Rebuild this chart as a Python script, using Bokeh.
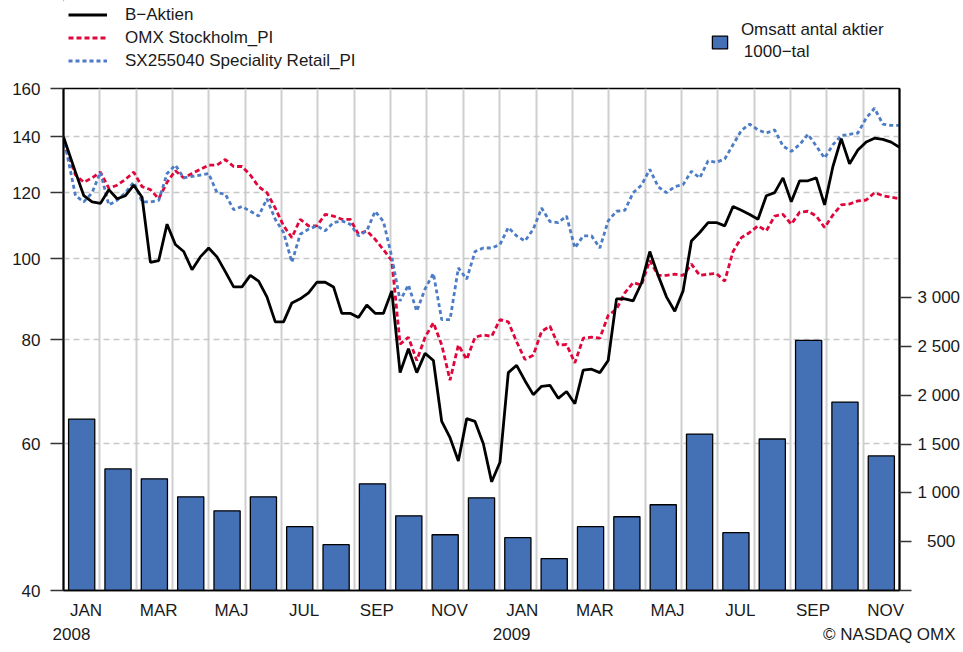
from bokeh.plotting import figure
from bokeh.layouts import column
from bokeh.models import (Range1d, LinearAxis, FixedTicker, Legend, LegendItem,
                          Label, LinearScale, ColumnDataSource)
from bokeh.embed import file_html
from bokeh.resources import INLINE

# ---------------- data ----------------
months = ["JAN", "FEB", "MAR", "APR", "MAJ", "JUN", "JUL", "AUG", "SEP", "OKT", "NOV", "DEC",
          "JAN", "FEB", "MAR", "APR", "MAJ", "JUN", "JUL", "AUG", "SEP", "OKT", "NOV"]
years = ["2008", "2009"]
source_note = "\u00a9 NASDAQ OMX"

# monthly traded volume, 1000-tal
volume = [1755, 1245, 1143, 959, 816, 959, 653, 469, 1092, 765, 571, 949,
          541, 327, 653, 755, 878, 1602, 592, 1551, 2561, 1929, 1378]

# weekly index values (start = 140)
b_aktien = [140, 127, 119, 117, 116.5, 121, 118, 119, 122.5, 118.5,
            99, 99.5, 110, 104, 102, 97, 100.5, 103, 100.5, 96.5,
            92.5, 92.5, 95.5, 94, 90, 84, 84, 88.5, 89.5, 91,
            93.7, 93.7, 92.5, 86, 86, 85, 88, 86, 86, 91.5,
            73, 78, 73, 77, 75.5, 63.8, 61, 57.2, 64.3, 63.8,
            60, 54, 57, 73, 74.5, 71.4, 68.7, 70.3, 70.5, 68,
            69.3, 67, 73.5, 73.7, 73, 75.5, 89.5, 89.5, 89, 93.5,
            102, 95.5, 90, 86.5, 91.5, 105, 107.5, 110.5, 110.5, 109.5,
            115.5, 114.3, 113, 111.5, 119, 120, 125, 117, 124, 124,
            125, 116, 129, 139.3, 130, 135, 138, 139.5, 139, 138,
            136]
omx_pi = [138, 126, 123.5, 125, 127, 121.5, 122.5, 124.5, 127, 122,
          121, 118, 123.5, 127.5, 125, 126.5, 128, 129.5, 129.5, 131.5,
          129, 129, 126, 122, 120, 115, 109.5, 106, 111.5, 109.5,
          109.5, 113, 112.5, 111.5, 111.5, 107, 108, 105.5, 102.5, 99.5,
          79, 80.5, 75.5, 80.5, 83.8, 78.8, 71.5, 78.8, 75.7, 80.5,
          81, 80.7, 84.5, 84, 79.5, 75.7, 76.6, 81.8, 83, 78.8,
          78.9, 75, 80.3, 80.5, 80.3, 85.5, 87, 91, 93.6, 93,
          99.5, 95.5, 95.5, 95.8, 95.5, 98.5, 95.5, 95.8, 96, 94,
          102, 106, 107.5, 109.5, 108, 112.5, 113, 110, 113.7, 114,
          112.5, 109, 112.8, 116, 116.3, 117.3, 117.6, 120, 119, 118.5,
          118]
sx_retail = [140, 119, 117, 120, 127, 116, 117.5, 120, 123.5, 117,
             117, 117.5, 126.5, 129.5, 125, 125.5, 126, 126.5, 120, 119.5,
             114.5, 115.5, 114, 112.5, 118, 111.5, 107.5, 99, 107, 108.5,
             109.5, 108, 110.5, 111, 110, 106.5, 108, 114, 110.8, 100.5,
             89, 93, 86.5, 92, 96, 84.5, 84.5, 97.5, 94.5, 102,
             103, 103, 104, 109, 106.5, 105, 108.5, 115, 110.8, 110.5,
             112.5, 103, 106.5, 106.5, 103, 111, 114, 114.3, 120, 122.5,
             128, 122, 120, 122, 122.7, 127.3, 125, 131, 130.5, 131.7,
             137, 142.5, 145, 142.7, 141.5, 142.7, 136.5, 134.5, 137, 141,
             136.5, 132, 137, 140.5, 141, 141.5, 147.5, 151.5, 145, 144.5,
             144.5]

price_ticks = [40, 60, 80, 100, 120, 140, 160]
vol_ticks = [0, 500, 1000, 1500, 2000, 2500, 3000]

# ---------------- styling / geometry ----------------
FONT = "Liberation Sans"
TXT = "#1a1a1a"
W = 963
TOP_H = 78
MAIN_H = 652 - TOP_H
BL, BR = 63, 62          # left / right borders (frames aligned in the column)
BAR_FILL = "#4471B6"
RED = "#E0063B"
BLUE = "#4C7CC6"
LW = 2.8
n_months = len(months)

# week positions in month units: first quote at 0, then weekly
first_week = 0.33
step = (n_months - first_week) / (len(b_aktien) - 2)
xw = [0.0] + [first_week + k * step for k in range(len(b_aktien) - 1)]

# ---------------- main chart ----------------
p = figure(width=W, height=MAIN_H, x_range=Range1d(0, n_months), y_range=Range1d(40, 160),
           y_axis_type="log", output_backend="svg", toolbar_location=None,
           min_border_left=BL, min_border_right=BR, min_border_top=10, min_border_bottom=62)
p.extra_y_ranges = {"vol": Range1d(0, 5140)}
p.extra_y_scales = {"vol": LinearScale()}
p.outline_line_color = "black"
p.outline_line_width = 1.5

# grids
p.xgrid.ticker = FixedTicker(ticks=list(range(1, n_months)))
p.xgrid.grid_line_color = "#cfcfcf"
p.xgrid.grid_line_width = 2
p.ygrid.ticker = FixedTicker(ticks=price_ticks[1:-1])
p.ygrid.grid_line_color = "#c8c8c8"
p.ygrid.grid_line_width = 1.5
p.ygrid.grid_line_dash = "6 4"

# left axis (price index, log)
ya = p.yaxis[0]
ya.ticker = FixedTicker(ticks=price_ticks)
ya.major_label_overrides = {t: str(t) for t in price_ticks}
ya.minor_tick_line_color = None
ya.major_tick_out = 13
ya.major_tick_in = 0
ya.major_tick_line_width = 1.5
ya.major_tick_line_color = "#333333"
ya.axis_line_width = 2
ya.axis_line_color = "black"
ya.major_label_standoff = 10
ya.major_label_text_font = FONT
ya.major_label_text_font_size = "17px"
ya.major_label_text_color = TXT

# bottom axis: months
xa = p.xaxis[0]
tick_pos = [round(m + 0.62, 2) for m in range(0, n_months, 2)]
xa.ticker = FixedTicker(ticks=tick_pos)
xa.major_label_overrides = {t: months[int(t)] for t in tick_pos}
xa.major_tick_line_color = None
xa.minor_tick_line_color = None
xa.major_tick_out = 0
xa.major_tick_in = 0
xa.axis_line_color = "black"
xa.axis_line_width = 1.5
xa.major_label_standoff = 10
xa.major_label_text_font = FONT
xa.major_label_text_font_size = "17px"
xa.major_label_text_color = TXT

# second bottom axis: years + source note
year_pos = [0.22, 12.33, 22.72]
ya2 = LinearAxis(ticker=FixedTicker(ticks=year_pos),
                 major_label_overrides={year_pos[0]: years[0], year_pos[1]: years[1],
                                        year_pos[2]: source_note})
ya2.axis_line_color = None
ya2.major_tick_line_color = None
ya2.minor_tick_line_color = None
ya2.major_tick_out = 0
ya2.major_tick_in = 0
ya2.major_label_standoff = 2
ya2.major_label_text_font = FONT
ya2.major_label_text_font_size = "17px"
ya2.major_label_text_color = TXT
p.add_layout(ya2, "below")

# right axis (volume)
def vol_label(v):
    if v == 0:
        return ""
    s = f"{v:,}".replace(",", " ")
    return s if v >= 1000 else "\u00a0\u00a0" + s

ra = LinearAxis(y_range_name="vol", ticker=FixedTicker(ticks=vol_ticks))
ra.major_label_overrides = {t: vol_label(t) for t in vol_ticks}
ra.minor_tick_line_color = None
ra.major_tick_out = 12
ra.major_tick_in = 0
ra.major_tick_line_width = 1.5
ra.major_tick_line_color = "#333333"
ra.axis_line_width = 2
ra.axis_line_color = "black"
ra.major_label_standoff = 6
ra.major_label_text_font = FONT
ra.major_label_text_font_size = "17px"
ra.major_label_text_color = TXT
p.add_layout(ra, "right")

# bars
bar_src = ColumnDataSource(dict(x=[m + 0.5 for m in range(n_months)], top=volume))
p.vbar(x="x", top="top", bottom=0, width=0.72, source=bar_src,
       fill_color=BAR_FILL, line_color="black", line_width=1.3, y_range_name="vol")

# lines
p.line(xw, omx_pi, line_color=RED, line_width=LW, line_dash="5 3")
p.line(xw, sx_retail, line_color=BLUE, line_width=LW, line_dash="4 3")
p.line(xw, b_aktien, line_color="black", line_width=LW)

# ---------------- legend strip ----------------
# frame of this strip is aligned with the chart frame (x from BL to W-BR),
# so its x range is expressed in page pixels
top = figure(width=W, height=TOP_H, x_range=Range1d(BL, W - BR), y_range=Range1d(TOP_H, 0),
             output_backend="svg", toolbar_location=None,
             min_border_left=BL, min_border_right=BR, min_border_top=0, min_border_bottom=0,
             x_axis_location=None, y_axis_location=None)
top.outline_line_color = None
top.grid.visible = False

# legend proxies (outside the visible strip)
k_black = top.line([-50, -40], [-50, -50], line_color="black", line_width=LW)
k_red = top.line([-50, -40], [-50, -50], line_color=RED, line_width=LW, line_dash="5 3")
k_blue = top.line([-50, -40], [-50, -50], line_color=BLUE, line_width=LW, line_dash="4 3")
k_bar = top.vbar(x=[-50], top=[-50], bottom=-60, width=1, fill_color=BAR_FILL,
                 line_color="black", line_width=1.3)

leg1 = Legend(items=[LegendItem(label="B\u2212Aktien", renderers=[k_black]),
                     LegendItem(label="OMX Stockholm_PI", renderers=[k_red]),
                     LegendItem(label="SX255040 Speciality Retail_PI", renderers=[k_blue])],
              location=(68 - BL, 7.25), orientation="vertical", border_line_color=None,
              background_fill_alpha=0, padding=0, margin=0, spacing=3,
              glyph_width=39, glyph_height=17, label_height=17, label_standoff=18,
              label_text_font=FONT, label_text_font_size="17px", label_text_color=TXT)
top.add_layout(leg1)

leg2 = Legend(items=[LegendItem(label=" ", renderers=[k_bar])],
              location=(709.5 - BL, 28.3), orientation="vertical", border_line_color=None,
              background_fill_alpha=0, padding=0, margin=0,
              glyph_width=19, glyph_height=16, label_height=16, label_standoff=0,
              label_text_font_size="2px")
top.add_layout(leg2)

top.add_layout(Label(x=742, y=28.5, text="Omsatt antal aktier", text_baseline="middle",
                     text_font=FONT, text_font_size="17px", text_color=TXT))
top.add_layout(Label(x=745, y=51, text="1000\u2212tal", text_baseline="middle",
                     text_font=FONT, text_font_size="17px", text_color=TXT))

layout = column(top, p, spacing=0)
open("out.html", "w").write(file_html(layout, INLINE))
